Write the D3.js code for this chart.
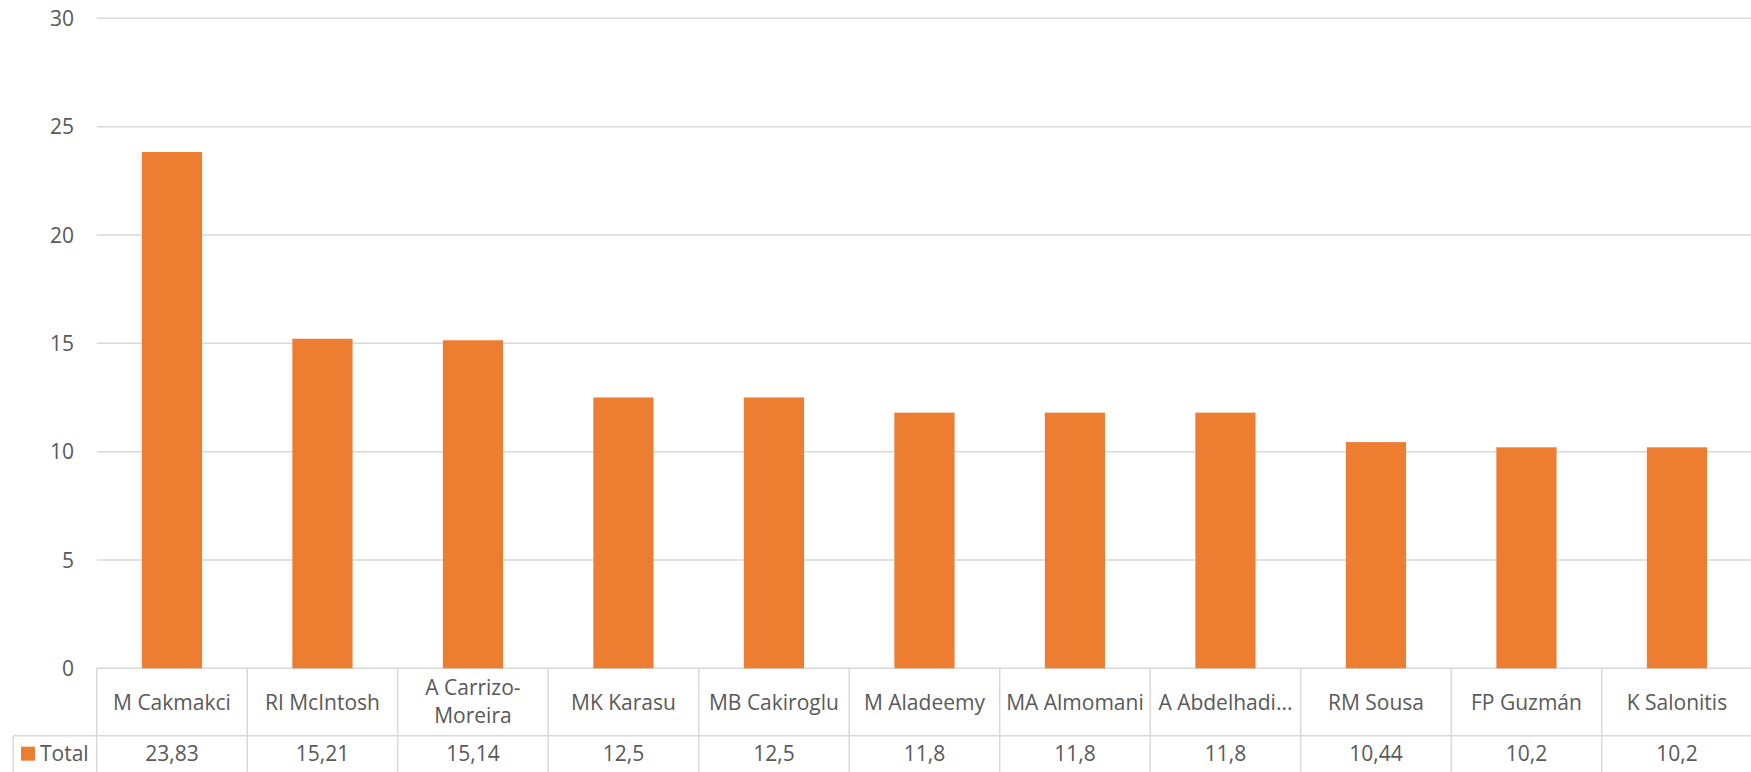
<!DOCTYPE html>
<html>
<head>
<meta charset="utf-8">
<script src="https://cdn.jsdelivr.net/npm/d3@7"></script>
<style>
  html, body { margin: 0; padding: 0; background: #fff; }
  svg { display: block; }
  text { font-family: "Open Sans", sans-serif; fill: #595959; }
</style>
</head>
<body>
<script>
// chart values
const authors = ["M Cakmakci", "RI McIntosh", "A Carrizo-Moreira", "MK Karasu", "MB Cakiroglu",
  "M Aladeemy", "MA Almomani", "A Abdelhadi...", "RM Sousa", "FP Guzmán", "K Salonitis"];
const totals = [23.83, 15.21, 15.14, 12.5, 12.5, 11.8, 11.8, 11.8, 10.44, 10.2, 10.2];
const yTicks = [0, 5, 10, 15, 20, 25, 30];
const seriesName = "Total";

const width = 1751, height = 772;
const plotLeft = 96.7, step = 150.5;
const plotTop = 18.3, plotBottom = 668.3;
const rowSplit = 735.7;
const gridColor = "#d9d9d9";
const barColor = "#ed7d31";

const svg = d3.select("body").append("svg")
  .attr("width", width)
  .attr("height", height);

const x = d3.scaleBand()
  .domain(authors)
  .range([plotLeft, plotLeft + step * authors.length])
  .paddingInner(0.6)
  .paddingOuter(0.3);

const y = d3.scaleLinear()
  .domain([0, 30])
  .range([plotBottom, plotTop]);

// gridlines
svg.append("g")
  .selectAll("line")
  .data(yTicks)
  .enter().append("line")
  .attr("x1", plotLeft)
  .attr("x2", width)
  .attr("y1", d => y(d))
  .attr("y2", d => y(d))
  .style("stroke", gridColor)
  .style("stroke-width", 1.5);

// y tick labels
svg.append("g")
  .selectAll("text")
  .data(yTicks)
  .enter().append("text")
  .attr("x", 74)
  .attr("y", d => y(d))
  .attr("dy", "0.36em")
  .attr("text-anchor", "end")
  .style("font-size", "21px")
  .text(d => d);

// bars
svg.append("g")
  .selectAll("rect")
  .data(totals)
  .enter().append("rect")
  .attr("x", (d, i) => x(authors[i]))
  .attr("width", x.bandwidth())
  .attr("y", d => y(d))
  .attr("height", d => y(0) - y(d))
  .style("fill", barColor);

// data table
const cellLeft = d => x(d) + x.bandwidth() / 2 - x.step() / 2;
const table = svg.append("g");

table.selectAll("line.v")
  .data(authors.concat(["_end"]))
  .enter().append("line")
  .attr("class", "v")
  .attr("x1", (d, i) => plotLeft + i * x.step())
  .attr("x2", (d, i) => plotLeft + i * x.step())
  .attr("y1", plotBottom)
  .attr("y2", height + 10)
  .style("stroke", gridColor)
  .style("stroke-width", 1.5);

table.append("line")
  .attr("x1", 13.3).attr("x2", width)
  .attr("y1", rowSplit).attr("y2", rowSplit)
  .style("stroke", gridColor)
  .style("stroke-width", 1.5);

table.append("line")
  .attr("x1", 13.3).attr("x2", 13.3)
  .attr("y1", rowSplit).attr("y2", height + 10)
  .style("stroke", gridColor)
  .style("stroke-width", 1.5);

// category names, wrapped at hyphen when too wide
table.selectAll("text.cat")
  .data(authors)
  .enter().append("text")
  .attr("class", "cat")
  .attr("text-anchor", "middle")
  .style("font-size", "21px")
  .each(function (d) {
    const t = d3.select(this);
    const cx = cellLeft(d) + x.step() / 2;
    t.text(d);
    if (this.getComputedTextLength() > x.step() - 12 && d.indexOf("-") > 0) {
      t.text(null);
      const parts = [d.slice(0, d.indexOf("-") + 1), d.slice(d.indexOf("-") + 1)];
      parts.forEach((p, k) => {
        t.append("tspan").attr("x", cx).attr("y", 695 + k * 28).text(p);
      });
    } else {
      t.attr("x", cx).attr("y", 710);
    }
  });

// values row
table.selectAll("text.val")
  .data(totals)
  .enter().append("text")
  .attr("class", "val")
  .attr("x", (d, i) => cellLeft(authors[i]) + x.step() / 2)
  .attr("y", 761)
  .attr("text-anchor", "middle")
  .style("font-size", "21px")
  .text(d => String(d).replace(".", ","));

// legend key
table.append("rect")
  .attr("x", 21).attr("y", 746.7)
  .attr("width", 14).attr("height", 14)
  .style("fill", barColor);

table.append("text")
  .attr("x", 40)
  .attr("y", 761)
  .style("font-size", "21px")
  .text(seriesName);
</script>
</body>
</html>
